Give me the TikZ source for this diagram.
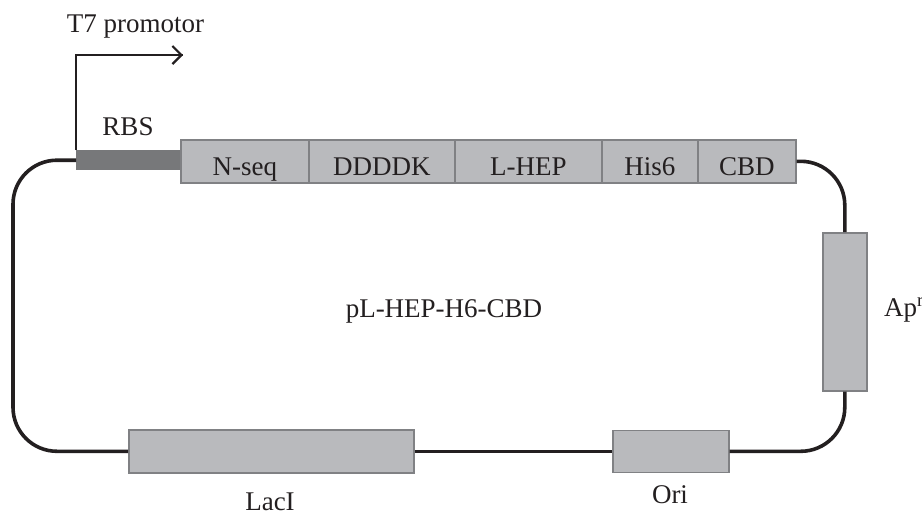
\documentclass[tikz,border=0pt]{standalone}
\usepackage{fontspec}
\setmainfont{Liberation Serif}
\usetikzlibrary{arrows.meta}
\definecolor{boxfill}{HTML}{B9BABD}
\definecolor{boxline}{HTML}{808184}
\definecolor{rbsfill}{HTML}{77787A}
\definecolor{ink}{HTML}{231F20}
\begin{document}
\begin{tikzpicture}[x=1pt,y=-1pt,
  lbl/.style={font=\fontsize{27}{30}\selectfont, text=ink, inner sep=0pt},
  gene/.style={draw=boxline, fill=boxfill, line width=1.6pt, inner sep=0pt,
    minimum height=43pt, text height=29pt, text depth=0pt, anchor=north west,
    font=\fontsize{27}{30}\selectfont, text=ink},
  part/.style={draw=boxline, fill=boxfill, line width=1.6pt, inner sep=0pt, anchor=north west},
  backbone/.style={draw=ink, line width=3.6pt, rounded corners=44pt},
  promo/.style={draw=ink, line width=2.2pt}]
\useasboundingbox[fill=white] (0,0) rectangle (922,517);

% RBS bar
\node[fill=rbsfill, inner sep=0pt, minimum width=105pt, minimum height=20pt, anchor=north west] (rbs) at (76,150) {};

% gene boxes
\node[gene, minimum width=128pt] (nseq) at (180,139) {N-seq};
\node[gene, minimum width=146pt] (dddk) at (308,139) {DDDDK};
\node[gene, minimum width=147pt] (lhep) at (454,139) {L-HEP};
\node[gene, minimum width=96pt] (his) at (601,139) {His6};
\node[gene, minimum width=98pt] (cbd) at (697,139) {CBD};

% other parts
\node[part, minimum width=44pt, minimum height=158pt] (ap) at (822,232) {};
\node[part, minimum width=116pt, minimum height=42pt] (ori) at (612,429.5) {};
\node[part, minimum width=285pt, minimum height=43pt] (laci) at (128,429) {};

% backbone
\draw[backbone] (rbs.west) -- ++(-63,0) |- (laci.west);
\draw[backbone] (laci.east) -- (ori.west);
\draw[backbone] (ori.east) -| (ap.south);
\draw[backbone] (ap.north) |- (cbd.east);

% promoter arrow
\coordinate (ptop) at (76,55);
\coordinate (ptip) at (183,55);
\draw[promo] (rbs.north west) -- (ptop) -- (ptip);
\draw[promo, -{Straight Barb[length=9pt,width=18pt,line width=2.2pt]}] (ptop) -- (ptip);

% labels
\node[lbl, anchor=base] (t7) at (135.5,32) {T7 promotor};
\node[lbl, anchor=base] (rbsl) at (128,135) {RBS};
\node[lbl, anchor=base] (name) at (444,317) {pL-HEP-H6-CBD};
\node[lbl, anchor=base west] (apl) at (884,316) {Ap\textsuperscript{r}};
\node[lbl, anchor=base] (oril) at (670,503) {Ori};
\node[lbl, anchor=base] (lacl) at (270,510) {LacI};
\end{tikzpicture}
\end{document}
